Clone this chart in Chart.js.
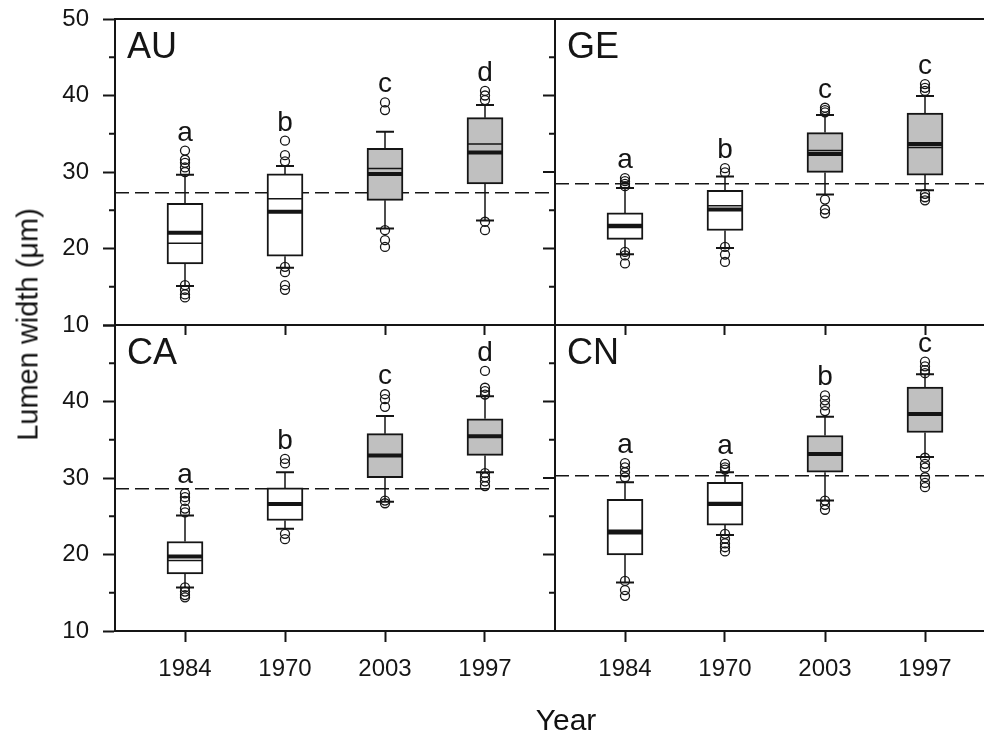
<!DOCTYPE html>
<html>
<head>
<meta charset="utf-8">
<title>Lumen width by year</title>
<script src="https://cdn.jsdelivr.net/npm/chart.js@4.4.1/dist/chart.umd.min.js"></script>
<style>
  html, body { margin: 0; padding: 0; background: #fff; }
  #fig { position: relative; width: 984px; height: 737px; overflow: hidden;
         font-family: "Liberation Sans", Arial, sans-serif; color: #111; }
  #fig canvas { position: absolute; }
  .ttl { position: absolute; text-align: center; line-height: 1; white-space: nowrap; }
</style>
</head>
<body>
<div id="fig">
  <canvas id="cAU" width="557" height="340" style="left:0;top:0"></canvas>
  <canvas id="cGE" width="429" height="340" style="left:555px;top:0"></canvas>
  <canvas id="cCA" width="557" height="431" style="left:0;top:306px"></canvas>
  <canvas id="cCN" width="429" height="431" style="left:555px;top:306px"></canvas>
  <div class="ttl" style="left:-172px;top:310px;width:400px;height:29px;font-size:29px;transform:rotate(-90deg)">Lumen width (μm)</div>
  <div class="ttl" style="left:466px;top:705px;width:200px;font-size:30px">Year</div>
</div>
<script>
// categories (same in every panel)
var years = ['1984', '1970', '2003', '1997'];

// AU panel
var auQ1 = [18.0, 19.0, 26.3, 28.45];
var auQ3 = [25.9, 29.75, 33.1, 37.1];
var auMean = [22.05, 24.8, 29.75, 32.55];
var auMedian = [20.7, 26.5, 30.45, 33.65];
var auLow = [15.1, 17.5, 22.6, 23.65];
var auHigh = [29.65, 30.8, 35.25, 38.75];
var auOutliers = [
  [32.8, 31.6, 31.2, 30.6, 30.0, 15.2, 14.6, 14.0, 13.6],
  [34.1, 32.2, 31.4, 17.6, 16.9, 15.2, 14.6],
  [39.1, 38.1, 22.4, 21.1, 20.2],
  [40.6, 40.0, 39.4, 23.5, 22.4]
];
var auLetters = ['a', 'b', 'c', 'd'];
var auRef = 27.3;

// GE panel
var geQ1 = [21.2, 22.35, 29.95, 29.6];
var geQ3 = [24.65, 27.6, 35.15, 37.7];
var geMean = [22.9, 25.1, 32.35, 33.65];
var geMedian = [23.15, 25.6, 32.8, 33.2];
var geLow = [19.25, 20.05, 27.05, 27.6];
var geHigh = [27.9, 29.4, 37.45, 39.95];
var geOutliers = [
  [29.2, 28.8, 28.45, 28.15, 19.55, 19.1, 18.05],
  [30.5, 29.95, 20.2, 19.2, 18.25],
  [38.4, 38.1, 37.8, 26.4, 25.1, 24.6],
  [41.5, 41.0, 40.6, 27.15, 26.7, 26.3]
];
var geLetters = ['a', 'b', 'c', 'c'];
var geRef = 28.45;

// CA panel
var caQ1 = [17.45, 24.45, 30.05, 32.95];
var caQ3 = [21.7, 28.7, 35.8, 37.75];
var caMean = [19.75, 26.6, 32.95, 35.45];
var caMedian = [19.2, 26.6, 32.95, 35.45];
var caLow = [15.7, 23.35, 26.9, 30.75];
var caHigh = [25.1, 30.75, 38.1, 40.7];
var caOutliers = [
  [28.0, 27.5, 27.0, 26.0, 25.5, 15.7, 15.15, 14.7, 14.4],
  [32.5, 31.9, 22.7, 22.0],
  [40.95, 40.3, 39.3, 27.05, 26.7],
  [44.0, 41.8, 41.35, 40.9, 30.65, 30.1, 29.55, 28.95]
];
var caLetters = ['a', 'b', 'c', 'd'];
var caRef = 28.6;

// CN panel
var cnQ1 = [19.95, 23.85, 30.75, 35.95];
var cnQ3 = [27.2, 29.45, 35.55, 41.9];
var cnMean = [23.0, 26.6, 33.15, 38.35];
var cnMedian = [22.7, 26.8, 33.15, 38.35];
var cnLow = [16.35, 22.55, 27.05, 32.75];
var cnHigh = [29.45, 30.75, 38.0, 43.55];
var cnOutliers = [
  [31.95, 31.4, 30.75, 30.1, 16.55, 15.35, 14.6],
  [31.85, 31.4, 31.1, 22.7, 22.05, 21.45, 20.95, 20.4],
  [40.8, 40.15, 39.5, 38.75, 27.05, 26.5, 25.85],
  [45.2, 44.6, 44.1, 43.7, 32.65, 31.85, 31.35, 30.1, 29.35, 28.8]
];
var cnLetters = ['a', 'a', 'b', 'c'];
var cnRef = 30.3;

var ink = '#151515';
var font = '"Liberation Sans", Arial, sans-serif';
var boxFill = ['#ffffff', '#ffffff', '#c0c0c0', '#c0c0c0'];

// whiskers, mean/median lines, frame, minor ticks and letters
function boxParts(name, d, p) {
  return {
    id: 'boxParts' + name,
    beforeDatasetsDraw: function (chart) {
      var ctx = chart.ctx, a = chart.chartArea, x = chart.scales.x, y = chart.scales.y;
      ctx.save();
      ctx.strokeStyle = ink;
      ctx.lineWidth = 1.5;
      ctx.setLineDash([14, 6]);
      var ry = y.getPixelForValue(d.ref);
      ctx.beginPath();
      ctx.moveTo(a.left, ry);
      ctx.lineTo(a.right, ry);
      ctx.stroke();
      ctx.setLineDash([]);
      years.forEach(function (yr, i) {
        var px = x.getPixelForValue(i);
        ctx.lineWidth = 1.5;
        ctx.beginPath();
        ctx.moveTo(px, y.getPixelForValue(d.q3[i]));
        ctx.lineTo(px, y.getPixelForValue(d.high[i]));
        ctx.moveTo(px, y.getPixelForValue(d.q1[i]));
        ctx.lineTo(px, y.getPixelForValue(d.low[i]));
        ctx.stroke();
        ctx.lineWidth = 2;
        ctx.beginPath();
        [d.high[i], d.low[i]].forEach(function (v) {
          var py = y.getPixelForValue(v);
          ctx.moveTo(px - 9, py);
          ctx.lineTo(px + 9, py);
        });
        ctx.stroke();
      });
      ctx.restore();
    },
    afterDatasetDraw: function (chart, args) {
      if (args.index !== 0) return;
      var ctx = chart.ctx, x = chart.scales.x, y = chart.scales.y;
      ctx.save();
      ctx.strokeStyle = ink;
      years.forEach(function (yr, i) {
        var px = x.getPixelForValue(i);
        ctx.lineWidth = 1.5;
        ctx.beginPath();
        ctx.moveTo(px - 17, y.getPixelForValue(d.median[i]));
        ctx.lineTo(px + 17, y.getPixelForValue(d.median[i]));
        ctx.stroke();
        ctx.lineWidth = 4;
        ctx.beginPath();
        ctx.moveTo(px - 17, y.getPixelForValue(d.mean[i]));
        ctx.lineTo(px + 17, y.getPixelForValue(d.mean[i]));
        ctx.stroke();
      });
      ctx.restore();
    },
    afterDraw: function (chart) {
      var ctx = chart.ctx, a = chart.chartArea, x = chart.scales.x, y = chart.scales.y;
      ctx.save();
      ctx.strokeStyle = ink;
      ctx.lineWidth = 2;
      ctx.beginPath();
      ctx.moveTo(a.left, a.top);
      ctx.lineTo(a.right, a.top);
      if (p.rightFrame) {
        ctx.moveTo(a.right, a.top);
        ctx.lineTo(a.right, a.bottom);
      }
      y.ticks.forEach(function (t) {
        var py = y.getPixelForValue(t.value);
        var major = t.value % 10 === 0;
        if (p.yAxis && !major) {
          ctx.moveTo(a.left - 6, py);
          ctx.lineTo(a.left, py);
        }
        if (p.rightFrame && t.value > y.min && t.value < y.max) {
          ctx.moveTo(a.right, py);
          ctx.lineTo(a.right - (major ? 12 : 6), py);
        }
      });
      ctx.stroke();

      ctx.fillStyle = ink;
      ctx.font = '28px ' + font;
      ctx.textAlign = 'center';
      ctx.textBaseline = 'alphabetic';
      years.forEach(function (yr, i) {
        var top = Math.max.apply(null, d.outliers[i].concat([d.high[i]]));
        ctx.fillText(d.letters[i], x.getPixelForValue(i), y.getPixelForValue(top) - 10);
      });
      ctx.font = '36px ' + font;
      ctx.textAlign = 'left';
      ctx.fillText(name, a.left + 12, a.top + 39);
      ctx.restore();
    }
  };
}

function noPadding(s) {
  s.paddingTop = 0;
  s.paddingBottom = 0;
  s.paddingLeft = 0;
  s.paddingRight = 0;
}

function buildPanel(id, name, d, p) {
  var points = [];
  d.outliers.forEach(function (vals, i) {
    vals.forEach(function (v) { points.push({ x: i, y: v }); });
  });
  return new Chart(document.getElementById(id), {
    type: 'bar',
    data: {
      datasets: [{
        data: years.map(function (yr, i) { return { x: i, y: [d.q1[i], d.q3[i]] }; }),
        backgroundColor: boxFill,
        borderColor: ink,
        borderWidth: 2,
        borderSkipped: false,
        barThickness: 36,
        order: 2
      }, {
        type: 'scatter',
        data: points,
        pointRadius: 4.5,
        pointBorderWidth: 1.3,
        borderColor: ink,
        backgroundColor: 'rgba(0,0,0,0)',
        order: 1
      }]
    },
    options: {
      responsive: false,
      animation: false,
      devicePixelRatio: 1,
      layout: { autoPadding: false, padding: { left: 0, right: p.padRight, top: 19, bottom: 0 } },
      plugins: { legend: { display: false }, tooltip: { enabled: false } },
      scales: {
        x: {
          type: 'linear',
          min: -0.7,
          max: p.xMax,
          offset: false,
          afterBuildTicks: function (s) {
            s.ticks = years.map(function (yr, i) { return { value: i }; });
          },
          afterFit: function (s) { s.height = p.xHeight; noPadding(s); },
          ticks: {
            display: p.xLabels,
            padding: 13,
            color: ink,
            font: { family: font, size: 24 },
            callback: function (v) { return years[v]; }
          },
          grid: { offset: false, drawOnChartArea: false, tickLength: p.xTick, tickWidth: 2, tickColor: ink },
          border: { display: true, color: ink, width: 2 }
        },
        y: {
          min: 10,
          max: 50,
          display: p.yAxis,
          afterFit: function (s) { s.width = p.yAxis ? 115 : 0; noPadding(s); },
          ticks: {
            stepSize: 5,
            padding: 14,
            autoSkip: false,
            color: ink,
            font: { family: font, size: 24 },
            callback: function (v) {
              if (v % 10 !== 0 || (p.hideTop && v === 50)) return '';
              return v;
            }
          },
          grid: {
            drawOnChartArea: false,
            tickLength: 12,
            tickWidth: 2,
            tickColor: function (c) { return c.tick && c.tick.value % 10 === 0 ? ink : 'rgba(0,0,0,0)'; }
          },
          border: { display: true, color: ink, width: 2 }
        }
      }
    },
    plugins: [boxParts(name, d, p)]
  });
}

buildPanel('cAU', 'AU',
  { q1: auQ1, q3: auQ3, mean: auMean, median: auMedian, low: auLow, high: auHigh, outliers: auOutliers, letters: auLetters, ref: auRef },
  { padRight: 2, xMax: 3.7, xHeight: 15, xTick: 10, xLabels: false, yAxis: true, rightFrame: true, hideTop: false });
buildPanel('cGE', 'GE',
  { q1: geQ1, q3: geQ3, mean: geMean, median: geMedian, low: geLow, high: geHigh, outliers: geOutliers, letters: geLetters, ref: geRef },
  { padRight: 0, xMax: 3.59, xHeight: 15, xTick: 10, xLabels: false, yAxis: false, rightFrame: false, hideTop: false });
buildPanel('cCA', 'CA',
  { q1: caQ1, q3: caQ3, mean: caMean, median: caMedian, low: caLow, high: caHigh, outliers: caOutliers, letters: caLetters, ref: caRef },
  { padRight: 2, xMax: 3.7, xHeight: 106, xTick: 11, xLabels: true, yAxis: true, rightFrame: true, hideTop: true });
buildPanel('cCN', 'CN',
  { q1: cnQ1, q3: cnQ3, mean: cnMean, median: cnMedian, low: cnLow, high: cnHigh, outliers: cnOutliers, letters: cnLetters, ref: cnRef },
  { padRight: 0, xMax: 3.59, xHeight: 106, xTick: 11, xLabels: true, yAxis: false, rightFrame: false, hideTop: true });
</script>
</body>
</html>
